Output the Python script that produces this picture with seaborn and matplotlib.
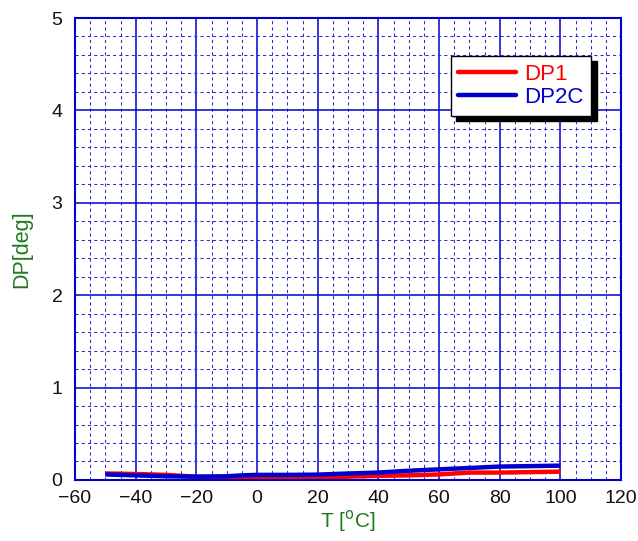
import pandas as pd
import numpy as np
import matplotlib
matplotlib.use("Agg")
import matplotlib.pyplot as plt
import seaborn as sns
from matplotlib.ticker import MultipleLocator, FixedLocator

sns.set_style("white")
plt.rcParams['font.family'] = ['Liberation Sans', 'DejaVu Sans']

# values
temp = [-50, -40, -30, -20, -10, -5, 0, 10, 20, 30, 40, 50, 60, 70, 80, 90, 100]
dp1 = [0.07, 0.065, 0.055, 0.035, 0.03, 0.02, 0.02, 0.02, 0.02, 0.036, 0.045, 0.05, 0.06, 0.08, 0.08, 0.085, 0.09]
dp2c = [0.06, 0.05, 0.04, 0.036, 0.04, 0.05, 0.055, 0.055, 0.058, 0.07, 0.08, 0.1, 0.115, 0.13, 0.145, 0.15, 0.155]

df = pd.DataFrame({
    'T': temp * 2,
    'DP': dp1 + dp2c,
    'series': ['DP1'] * len(temp) + ['DP2C'] * len(temp),
})

grid_blue = '#0000cc'
green = '#1f7a1f'
palette = {'DP1': '#ff0000', 'DP2C': '#0000cc'}

fig = plt.figure(figsize=(6.38, 5.41), dpi=100)
ax = fig.add_axes([0.1176, 0.1128, 0.8558, 0.8539])

sns.lineplot(data=df, x='T', y='DP', hue='series', palette=palette,
             linewidth=3.2, ax=ax, legend=False, solid_capstyle='butt')

ax.set_xlim(-60, 120)
ax.set_ylim(0, 5)
ax.xaxis.set_major_locator(MultipleLocator(20))
ax.yaxis.set_major_locator(MultipleLocator(1))
x_minor = [v for v in range(-60, 121, 5) if v % 20 != 0]
y_minor = [i / 5 for i in range(0, 26) if i % 5 != 0]
ax.xaxis.set_minor_locator(FixedLocator(x_minor))
ax.yaxis.set_minor_locator(FixedLocator(y_minor))
ax.grid(which='major', color=grid_blue, linestyle='-', linewidth=1.1)
ax.grid(which='minor', color='#2a2ad6', linestyle=(0, (3, 3)), linewidth=0.75)
ax.set_axisbelow(True)
for s in ax.spines.values():
    s.set_color(grid_blue)
    s.set_linewidth(1.5)
ax.tick_params(which='both', length=0, labelsize=14, colors='#111111')
ax.tick_params(axis='x', pad=7)
ax.tick_params(axis='y', pad=9)

ax.set_xlabel(r'T [$^{\rm o}$C]', color=green, fontsize=15, labelpad=1)
ax.set_ylabel('DP[deg]', color=green, fontsize=15.5, labelpad=14)

handles = [plt.Line2D([], [], color=palette[k], linewidth=3.2) for k in ['DP1', 'DP2C']]
leg = ax.legend(handles, ['DP1', 'DP2C'], loc='upper left', bbox_to_anchor=(0.688, 0.918),
                frameon=True, fancybox=False, shadow={'color': 'black', 'alpha': 1, 'ox': 4, 'oy': -4},
                fontsize=16, handlelength=2.6, borderpad=0.35, labelspacing=0.1,
                handletextpad=0.35, borderaxespad=0, framealpha=1)
leg.get_frame().set_edgecolor('black')
leg.get_frame().set_linewidth(1)
for t, k in zip(leg.get_texts(), ['DP1', 'DP2C']):
    t.set_color(palette[k])

fig.savefig('out.png', dpi=100)
